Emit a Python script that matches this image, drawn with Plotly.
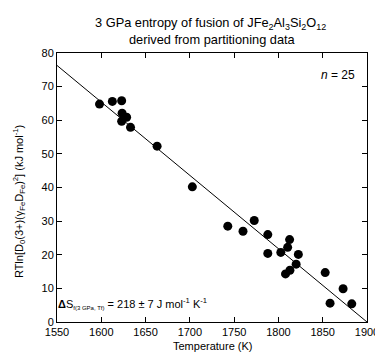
import plotly.graph_objects as go

# Data
temperature_K = [1598, 1612.5, 1623, 1623.5, 1628.6, 1623, 1633, 1663, 1702.8,
                 1742.8, 1760, 1772.7, 1788, 1788, 1802.7, 1810.4, 1812.6, 1822.5,
                 1820, 1813, 1808, 1852.8, 1873, 1858.3, 1882.8]
rtln_kJ = [64.8, 65.6, 65.8, 62.1, 60.9, 59.7, 57.9, 52.3, 40.2,
           28.5, 27.0, 30.2, 26.0, 20.4, 20.7, 22.2, 24.5, 20.1,
           17.2, 15.4, 14.3, 14.7, 9.9, 5.6, 5.4]

# Fit: y = dS * (Tf - T), dS = 218 J/mol/K, line reaches zero at 1900 K
dS_kJ = 0.218
T_zero = 1900
fit_T = [1550, 1900]
fit_y = [dS_kJ * (T_zero - t) for t in fit_T]

x_ticks = [1550, 1600, 1650, 1700, 1750, 1800, 1850, 1900]
y_ticks = [0, 10, 20, 30, 40, 50, 60, 70, 80]

FONT = "Liberation Sans, Arial, Helvetica, sans-serif"
PLOT_W = 319
PLOT_H = 269
PLOT_L = 49
PLOT_B = 314


def px_x(px):
    return (px - PLOT_L) / PLOT_W


def px_y(py):
    return (PLOT_B - py) / PLOT_H


fig = go.Figure()
fig.add_trace(go.Scatter(x=fit_T, y=fit_y, mode="lines",
                         line=dict(color="black", width=1), showlegend=False,
                         hoverinfo="skip"))
fig.add_trace(go.Scatter(x=temperature_K, y=rtln_kJ, mode="markers",
                         marker=dict(color="black", size=9), showlegend=False))

axis_common = dict(showline=True, linecolor="black", linewidth=1, mirror="ticks",
                   ticks="inside", ticklen=5, tickcolor="black", tickwidth=1,
                   showgrid=False, zeroline=False,
                   tickfont=dict(family=FONT, size=11, color="black"))

fig.update_xaxes(range=[1550, 1900], tickvals=x_ticks, **axis_common)
fig.update_yaxes(range=[0, 80], tickvals=y_ticks, **axis_common)

fig.update_layout(
    width=383, height=353,
    margin=dict(l=49, r=15, t=45, b=39),
    paper_bgcolor="white", plot_bgcolor="white",
    font=dict(family=FONT, size=11, color="black"),
    annotations=[
        dict(text="3 GPa entropy of fusion of JFe<sub>2</sub>Al<sub>3</sub>Si<sub>2</sub>O<sub>12</sub>",
             xref="paper", yref="paper", x=px_x(207), y=px_y(15), xanchor="center", yanchor="middle",
             showarrow=False, font=dict(family=FONT, size=12.8, color="black")),
        dict(text="derived from partitioning data",
             xref="paper", yref="paper", x=px_x(209), y=px_y(32), xanchor="center", yanchor="middle",
             showarrow=False, font=dict(family=FONT, size=12.8, color="black")),
        dict(text="Temperature (K)",
             xref="paper", yref="paper", x=0.5, y=px_y(338), xanchor="center", yanchor="middle",
             showarrow=False, font=dict(family=FONT, size=11, color="black")),
        dict(text="RTln[D<sub>0</sub>(3+)(γ<sub>Fe</sub>D<sub>Fe</sub>)<sup>2</sup>] (kJ mol<sup>-1</sup>)",
             textangle=-90, xref="paper", yref="paper", x=px_x(10), y=px_y(194),
             xanchor="center", yanchor="middle", showarrow=False,
             font=dict(family=FONT, size=11, color="black")),
        dict(text="<b>Δ</b>S<sub><span style='font-size:6px'>f(3 GPa, Tf)</span></sub> = 218 ± 7 J mol<sup>-1</sup> K<sup>-1</sup>",
             xref="paper", yref="y", x=px_x(48), y=5.4,
             xanchor="left", yanchor="middle", showarrow=False,
             font=dict(family=FONT, size=11, color="black")),
        dict(text="<i>n</i> = 25", xref="paper", yref="y", x=px_x(358), y=73.5,
             xanchor="right", yanchor="middle", showarrow=False,
             font=dict(family=FONT, size=12, color="black")),
    ],
)

fig.write_html("out.html")
